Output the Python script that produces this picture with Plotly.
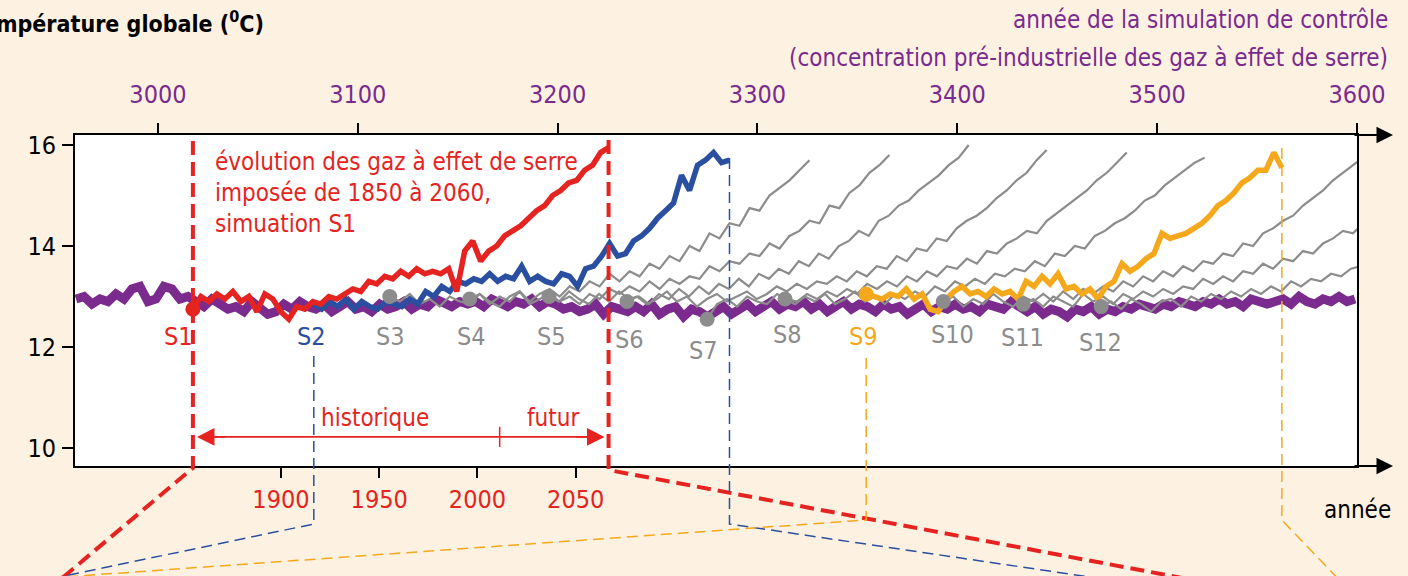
import plotly.graph_objects as go

# ---------------- data ----------------
X0, X1 = 2958.5, 3600.0          # control-simulation years (top axis)
Y0, Y1 = 9.644, 16.198           # temperature range
H0, H1 = 1795.2, 2447.6          # historical years (bottom axis)

top_ticks = [3000, 3100, 3200, 3300, 3400, 3500, 3600]
bottom_ticks = [1900, 1950, 2000, 2050]
y_ticks = [10, 12, 14, 16]

control_start = 2959
control_step = 4
control_temp = [
    12.95, 13.0, 12.85, 12.95, 12.9, 13.05, 12.95, 13.15, 13.2, 12.9,
    12.95, 13.2, 13.15, 12.95, 13.0, 12.9, 12.8, 12.95, 12.85, 12.75,
    12.8, 12.7, 12.9, 12.75, 12.65, 12.7, 12.85, 12.75, 12.9, 12.8,
    12.75, 12.85, 12.7, 12.8, 12.9, 12.75, 12.8, 12.7, 12.85, 12.75,
    12.8, 12.9, 12.75, 12.85, 12.8, 12.95, 12.85, 12.8, 12.9, 12.85,
    12.9, 12.8, 12.95, 12.85, 12.8, 12.9, 12.85, 12.95, 12.8, 12.9,
    12.85, 12.75, 12.8, 12.7, 12.75, 12.85, 12.65, 12.8, 12.75, 12.7,
    12.8, 12.7, 12.85, 12.65, 12.75, 12.8, 12.6, 12.75, 12.7, 12.6,
    12.7, 12.8, 12.65, 12.75, 12.85, 12.7, 12.8, 12.9, 12.75, 12.85,
    12.8, 12.9, 12.75, 12.85, 12.7, 12.8, 12.9, 12.75, 12.85, 12.8,
    12.7, 12.85, 12.75, 12.8, 12.65, 12.75, 12.85, 12.7, 12.8, 12.75,
    12.85, 12.75, 12.8, 12.7, 12.85, 12.8, 12.75, 12.9, 12.8, 12.7,
    12.8, 12.65, 12.75, 12.7, 12.6, 12.75, 12.7, 12.8, 12.65, 12.75,
    12.7, 12.8, 12.75, 12.85, 12.8, 12.75, 12.85, 12.8, 12.9, 12.85,
    12.8, 12.9, 12.85, 12.95, 12.85, 12.9, 12.8, 12.95, 12.9, 12.85,
    12.9, 12.95, 12.85, 13.0, 12.9, 12.85, 12.95, 12.9, 13.0, 12.9,
    12.95,
]

sim_names = ["S1", "S2", "S3", "S4", "S5", "S6", "S7", "S8", "S9", "S10", "S11", "S12"]
sim_start = [3017.5, 3078, 3116, 3156, 3195.7, 3234.7, 3274.8, 3313.8, 3354.4, 3393, 3433, 3472]
sim_label_x = [3010.5, 3076.6, 3116.6, 3156.7, 3196.7, 3236.2, 3272.8, 3314.8, 3352.9, 3397.4, 3432.4, 3471.5]
sim_label_y = [12.2, 12.2, 12.2, 12.2, 12.2, 12.14, 11.94, 12.24, 12.2, 12.24, 12.18, 12.08]

colored_step = 4
s1_temp = [
    12.75, 13.0, 12.9, 13.05, 12.95, 13.1, 12.9, 13.0, 12.7, 13.05,
    12.95, 12.7, 12.55, 12.8, 12.75, 12.9, 12.85, 13.0, 12.95, 13.05,
    13.15, 13.1, 13.3, 13.25, 13.4, 13.35, 13.5, 13.4, 13.55, 13.45,
    13.5, 13.45, 13.55, 13.1, 13.9, 14.1, 13.7, 13.9, 14.0, 14.2,
    14.3, 14.4, 14.55, 14.7, 14.8, 15.0, 15.1, 15.25, 15.3, 15.5,
    15.6, 15.85, 15.95,
]
s2_temp = [
    12.85, 12.75, 12.9, 12.8, 12.95, 12.75, 12.9, 12.8, 12.75, 12.9,
    12.85, 12.8, 12.95, 12.85, 13.1, 13.0, 13.2, 13.1, 13.3, 13.25,
    13.35, 13.3, 13.45, 13.3, 13.4, 13.35, 13.6, 13.3, 13.4, 13.3,
    13.25, 13.45, 13.4, 13.2, 13.55, 13.6, 13.8, 14.05, 13.8, 13.85,
    14.1, 14.2, 14.35, 14.55, 14.7, 14.85, 15.4, 15.1, 15.6, 15.7,
    15.85, 15.65, 15.7,
]
s9_temp = [
    13.05, 13.0, 12.95, 13.05, 13.0, 13.15, 12.95, 13.05, 12.75, 12.7,
    12.95, 13.1, 13.2, 13.05, 13.1, 13.0, 13.15, 13.05, 13.1, 12.95,
    13.3, 13.2, 13.4, 13.25, 13.45, 13.15, 13.2, 13.05, 13.15, 12.95,
    13.2, 13.3, 13.65, 13.5, 13.6, 13.75, 13.85, 14.25, 14.15, 14.2,
    14.25, 14.35, 14.45, 14.6, 14.8, 14.9, 15.05, 15.25, 15.35, 15.5,
    15.5, 15.85, 15.55,
]

gray_step = 5
s3_temp = [13.0, 12.9, 13.05, 12.85, 12.95, 12.8, 13.0, 12.9, 12.85, 13.05, 12.9, 12.8, 13.0, 13.1, 12.9,
           13.05, 13.15, 13.0, 13.2, 13.1, 13.3, 13.2, 13.45, 13.3, 13.5, 13.4, 13.65, 13.55, 13.8, 13.7,
           14.0, 13.9, 14.25, 14.15, 14.45, 14.4, 14.75, 14.7, 15.0, 15.15, 15.3, 15.5, 15.7]
s4_temp = [12.95, 13.05, 12.85, 13.0, 12.9, 13.1, 12.85, 12.95, 13.05, 12.9, 13.0, 12.85, 13.05, 12.95, 13.15,
           13.05, 13.2, 13.1, 13.3, 13.15, 13.35, 13.25, 13.4, 13.35, 13.6, 13.5, 13.7, 13.65, 13.85, 13.8,
           14.05, 13.95, 14.2, 14.3, 14.5, 14.45, 14.8, 14.75, 15.05, 15.2, 15.45, 15.6, 15.8]
s5_temp = [13.0, 12.9, 13.1, 12.95, 12.85, 13.05, 12.9, 13.1, 12.95, 13.0, 12.85, 13.05, 12.95, 13.15, 13.0,
           13.2, 13.05, 13.25, 13.15, 13.35, 13.2, 13.45, 13.35, 13.55, 13.45, 13.7, 13.6, 13.85, 13.75, 14.0,
           14.1, 14.3, 14.2, 14.5, 14.6, 14.8, 14.9, 15.1, 15.25, 15.4, 15.6, 15.75, 16.0]
s6_temp = [12.9, 13.0, 12.85, 12.95, 13.1, 12.9, 13.0, 12.8, 12.95, 13.05, 12.9, 13.0, 13.1, 12.95, 13.05,
           13.2, 13.1, 13.25, 13.15, 13.3, 13.25, 13.4, 13.3, 13.5, 13.4, 13.6, 13.55, 13.8, 13.7, 13.95,
           13.9, 14.15, 14.1, 14.35, 14.5, 14.6, 14.75, 14.95, 15.1, 15.3, 15.45, 15.7, 15.9]
s7_temp = [12.55, 12.85, 12.95, 12.8, 13.0, 12.9, 12.85, 13.05, 12.95, 12.9, 13.05, 12.95, 13.1, 13.0, 13.15,
           13.05, 13.25, 13.15, 13.3, 13.2, 13.4, 13.3, 13.5, 13.4, 13.6, 13.55, 13.75, 13.65, 13.9, 13.85,
           14.05, 14.15, 14.3, 14.25, 14.5, 14.65, 14.8, 14.95, 15.1, 15.3, 15.45, 15.65, 15.85]
s8_temp = [12.95, 12.85, 13.0, 12.9, 13.05, 12.85, 12.95, 13.1, 12.9, 13.0, 12.85, 13.05, 12.95, 13.1, 13.0,
           13.2, 13.1, 13.3, 13.2, 13.35, 13.25, 13.45, 13.4, 13.55, 13.5, 13.7, 13.6, 13.85, 13.8, 14.0,
           13.95, 14.2, 14.3, 14.45, 14.55, 14.7, 14.9, 15.0, 15.2, 15.35, 15.5, 15.65, 15.75]
s10_temp = [12.9, 13.0, 12.8, 12.95, 12.85, 13.05, 12.9, 12.8, 13.0, 12.9, 13.05, 12.9, 13.1, 12.95, 13.15,
            13.05, 13.2, 13.1, 13.3, 13.2, 13.4, 13.3, 13.5, 13.4, 13.6, 13.5, 13.7, 13.65, 13.85, 13.8,
            14.05, 14.0, 14.25, 14.35, 14.5, 14.6, 14.8, 14.95, 15.1, 15.3, 15.45, 15.6, 15.75]
s11_temp = [12.85, 12.95, 12.8, 13.0, 12.9, 12.8, 13.05, 12.9, 13.0, 12.85, 13.05, 12.95, 13.1, 13.0, 13.15,
            13.05, 13.2, 13.15, 13.35, 13.25, 13.4, 13.3, 13.5, 13.45, 13.65, 13.55, 13.75, 13.7, 13.9, 13.85,
            14.05, 14.15, 14.3, 14.25, 14.45]
s12_temp = [12.8, 12.9, 12.75, 12.95, 12.85, 12.7, 12.9, 12.95, 12.8, 13.0, 12.9, 13.05, 12.95, 13.1, 13.0,
            13.15, 13.05, 13.2, 13.1, 13.3, 13.2, 13.35, 13.3, 13.45, 13.4, 13.55, 13.6]

gray_series = {"S3": s3_temp, "S4": s4_temp, "S5": s5_temp, "S6": s6_temp, "S7": s7_temp,
               "S8": s8_temp, "S10": s10_temp, "S11": s11_temp, "S12": s12_temp}
colored_series = {"S2": s2_temp, "S1": s1_temp, "S9": s9_temp}

# ---------------- styles ----------------
FONT = "Liberation Sans Narrow, DejaVu Sans Condensed, Arial Narrow, sans-serif"
PURPLE = "#7b2a8e"
RED = "#e52421"
BLUE = "#2a4fa0"
ORANGE = "#f6a81c"
GRAY = "#8c8c8c"
BG = "#fdf2e2"
sim_color = {n: GRAY for n in sim_names}
sim_color.update({"S1": RED, "S2": BLUE, "S9": ORANGE})

# pixel geometry of plot area (for decorative positions only)
PL, PR, PT, PB = 75, 1357, 135, 466


def pxp(px):
    return (px - PL) / (PR - PL)


def pyp(py):
    return (PB - py) / (PB - PT)


def year_to_paper(yr):
    return (yr - X0) / (X1 - X0)


def yrs(start, step, n):
    return [start + step * i for i in range(n)]


fig = go.Figure()

# control run
fig.add_trace(go.Scatter(
    x=yrs(control_start, control_step, len(control_temp)), y=control_temp,
    mode="lines", line=dict(color=PURPLE, width=9), hoverinfo="skip"))

# gray runs
for name, vals in gray_series.items():
    st = sim_start[sim_names.index(name)]
    fig.add_trace(go.Scatter(x=yrs(st, gray_step, len(vals)), y=vals, mode="lines",
                             line=dict(color=GRAY, width=2.2), hoverinfo="skip"))

# coloured runs
for name, vals in colored_series.items():
    st = sim_start[sim_names.index(name)]
    fig.add_trace(go.Scatter(x=yrs(st, colored_step, len(vals)), y=vals, mode="lines",
                             line=dict(color=sim_color[name], width=5.5), hoverinfo="skip"))

# start markers
all_series = dict(gray_series)
all_series.update(colored_series)
for name in sim_names:
    if name == "S2":
        continue
    st = sim_start[sim_names.index(name)]
    fig.add_trace(go.Scatter(x=[st], y=[all_series[name][0]], mode="markers",
                             marker=dict(color=sim_color[name], size=15), hoverinfo="skip"))

# dummy trace for the historical axis
fig.add_trace(go.Scatter(x=[H0, H1], y=[Y0, Y0], xaxis="x2", mode="lines",
                         line=dict(width=0), hoverinfo="skip"))

shapes = []
annotations = []

s1_end = sim_start[0] + colored_step * (len(s1_temp) - 1)
s2_end = sim_start[1] + colored_step * (len(s2_temp) - 1)
s9_end = sim_start[8] + colored_step * (len(s9_temp) - 1)


def path(points):
    return "M " + " L ".join(f"{x:.5f},{y:.5f}" for x, y in points)


red_dash = dict(color=RED, width=4, dash="14px,7px")
thin = lambda c: dict(color=c, width=1.5, dash="11px,6px")

xa = year_to_paper(sim_start[0])
shapes.append(dict(type="path", xref="paper", yref="paper", line=red_dash,
                   path=path([(xa, pyp(141)), (xa, pyp(468)), (pxp(55), pyp(584))])))
xb = year_to_paper(s1_end)
shapes.append(dict(type="path", xref="paper", yref="paper", line=red_dash,
                   path=path([(xb, pyp(140)), (xb, pyp(470)), (pxp(1230), pyp(587))])))
xc = year_to_paper(sim_start[1])
shapes.append(dict(type="path", xref="paper", yref="paper", line=thin(BLUE),
                   path=path([(xc, pyp(356)), (xc, pyp(524)), (pxp(45), pyp(580))])))
xd = year_to_paper(s2_end)
shapes.append(dict(type="path", xref="paper", yref="paper", line=thin(BLUE),
                   path=path([(xd, pyp(158)), (xd, pyp(524)), (pxp(1110), pyp(580))])))
xe = year_to_paper(sim_start[8])
shapes.append(dict(type="path", xref="paper", yref="paper", line=thin(ORANGE),
                   path=path([(xe, pyp(358)), (xe, pyp(520)), (pxp(50), pyp(578))])))
xf = year_to_paper(s9_end)
shapes.append(dict(type="path", xref="paper", yref="paper", line=thin(ORANGE),
                   path=path([(xf, pyp(148)), (xf, pyp(520)), (pxp(1345), pyp(586))])))

# historique / futur arrow
arrow_y = 10.22
split_year = 3171
shapes.append(dict(type="line", xref="x", yref="y", x0=sim_start[0] + 3, x1=s1_end - 3,
                   y0=arrow_y, y1=arrow_y, line=dict(color=RED, width=1.8)))
shapes.append(dict(type="line", xref="x", yref="y", x0=split_year, x1=split_year,
                   y0=arrow_y - 0.2, y1=arrow_y + 0.2, line=dict(color=RED, width=1.5)))
for hx, axo in [(sim_start[0] + 2, 30), (s1_end - 2, -30)]:
    annotations.append(dict(x=hx, y=arrow_y, xref="x", yref="y", ax=axo, ay=0, text="",
                            showarrow=True, arrowhead=2, arrowsize=2.2, arrowwidth=1.6,
                            arrowcolor=RED, standoff=0))
annotations.append(dict(x=3108.6, y=10.59, xref="x", yref="y", text="historique", showarrow=False,
                        font=dict(family=FONT, size=24, color=RED)))
annotations.append(dict(x=3197.7, y=10.59, xref="x", yref="y", text="futur", showarrow=False,
                        font=dict(family=FONT, size=24, color=RED)))

# axis arrows
for yy in (1, 0):
    annotations.append(dict(x=pxp(1393), y=yy, xref="paper", yref="paper", ax=-40, ay=0, text="",
                            showarrow=True, arrowhead=2, arrowsize=1.5, arrowwidth=2.2,
                            arrowcolor="black", standoff=0))

# red explanatory text
annotations.append(dict(x=3027.5, y=15.98, xref="x", yref="y", xanchor="left", yanchor="top",
                        align="left", showarrow=False,
                        text="évolution des gaz à effet de serre<br>imposée de 1850 à 2060,<br>simuation S1",
                        font=dict(family=FONT, size=24, color=RED)))

# S labels
for name, lx, ly in zip(sim_names, sim_label_x, sim_label_y):
    annotations.append(dict(x=lx, y=ly, xref="x", yref="y", text=name, showarrow=False,
                            font=dict(family=FONT, size=25, color=sim_color[name])))

# titles
annotations.append(dict(x=pxp(266), y=pyp(22), xref="paper", yref="paper", xanchor="right",
                        yanchor="middle", showarrow=False,
                        text="<b>température globale (<sup>0</sup>C)</b>",
                        font=dict(family=FONT, size=23, color="black")))
annotations.append(dict(x=pxp(1390), y=pyp(20), xref="paper", yref="paper", xanchor="right",
                        yanchor="middle", showarrow=False, text="année de la simulation de contrôle",
                        font=dict(family=FONT, size=24, color=PURPLE)))
annotations.append(dict(x=pxp(1390), y=pyp(58), xref="paper", yref="paper", xanchor="right",
                        yanchor="middle", showarrow=False,
                        text="(concentration pré-industrielle des gaz à effet de serre)",
                        font=dict(family=FONT, size=24, color=PURPLE)))
annotations.append(dict(x=pxp(1393), y=pyp(510), xref="paper", yref="paper", xanchor="right",
                        yanchor="middle", showarrow=False, text="année",
                        font=dict(family=FONT, size=24, color="black")))

fig.update_layout(
    width=1408, height=576,
    margin=dict(l=PL, r=1408 - PR, t=PT, b=576 - PB, pad=0),
    paper_bgcolor=BG, plot_bgcolor="white",
    showlegend=False,
    font=dict(family=FONT),
    xaxis=dict(side="top", range=[X0, X1], tickvals=top_ticks, ticks="outside", ticklen=10,
               tickwidth=2, tickcolor="black", showgrid=False, zeroline=False,
               showline=True, linecolor="black", linewidth=2, ticklabelstandoff=10,
               tickfont=dict(family=FONT, size=25, color=PURPLE)),
    xaxis2=dict(overlaying="x", side="bottom", anchor="y", range=[H0, H1], tickvals=bottom_ticks,
                ticks="outside", ticklen=10, tickwidth=2, tickcolor="black", showgrid=False,
                zeroline=False, showline=True, linecolor="black", linewidth=2, ticklabelstandoff=0,
                tickfont=dict(family=FONT, size=25, color=RED)),
    yaxis=dict(range=[Y0, Y1], tickvals=y_ticks, ticks="outside", ticklen=11, tickwidth=2,
               tickcolor="black", showgrid=False, zeroline=False, showline=True, mirror=True,
               linecolor="black", linewidth=2, ticklabelstandoff=1,
               tickfont=dict(family=FONT, size=25, color="black")),
    shapes=shapes,
    annotations=annotations,
)

fig.write_html("out.html")
